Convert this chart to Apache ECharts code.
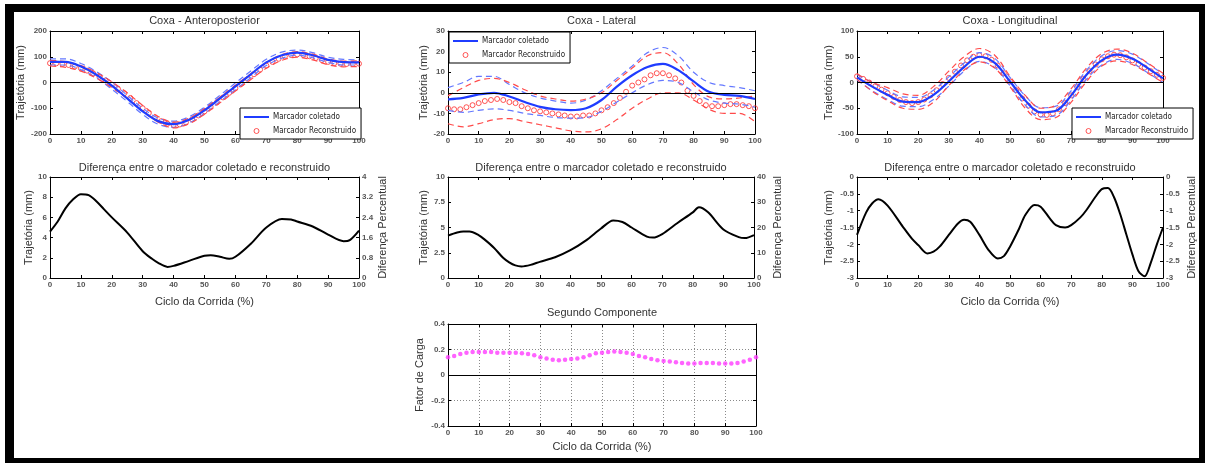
<!DOCTYPE html>
<html><head><meta charset="utf-8">
<script src="https://cdn.jsdelivr.net/npm/echarts@6/dist/echarts.min.js"></script>
<style>html,body{margin:0;padding:0;background:#fff}#c{width:1207px;height:464px}</style>
</head><body><div id="c"></div>
<script>
// ---------- data ----------
const X5 = [0,5,10,15,20,25,30,35,40,45,50,55,60,65,70,75,80,85,90,95,100];
const X2 = [0,2,4,6,8,10,12,14,16,18,20,22,24,26,28,30,32,34,36,38,40,42,44,46,48,50,52,54,56,58,60,62,64,66,68,70,72,74,76,78,80,82,84,86,88,90,92,94,96,98,100];
const X_TICKS = [0,10,20,30,40,50,60,70,80,90,100];

// Coxa - Anteroposterior
const AP_Y_TICKS = [-200,-100,0,100,200];
const AP_COL      = [80,80,62,30,-12,-62,-112,-150,-162,-145,-108,-62,-15,32,78,106,116,106,88,79,78];
const AP_COL_UP   = [92,92,74,42,2,-50,-100,-138,-150,-133,-96,-50,-2,45,90,118,126,116,98,90,88];
const AP_COL_LO   = [68,68,50,18,-26,-74,-124,-162,-174,-157,-120,-74,-28,19,66,94,106,96,78,68,68];
const AP_REC      = [75,74,72,68,62,55,46,35,22,8,-8,-25,-42,-60,-80,-100,-118,-135,-150,-160,-165,-163,-155,-143,-128,-112,-95,-77,-58,-40,-22,-4,14,32,50,66,80,92,101,107,109,107,102,95,87,80,75,73,72,72,73];
const AP_REC_UP   = [86,81,66,39,3,-40,-89,-132,-154,-138,-101,-57,-11,34,77,108,120,110,91,83,84];
const AP_REC_LO   = [64,59,44,17,-19,-62,-111,-154,-176,-160,-123,-79,-33,12,55,86,98,88,69,61,62];

// Coxa - Lateral
const LAT_Y_TICKS = [-20,-10,0,10,20,30];
const LAT_COL     = [-3.2,-2.5,-0.8,0,-1.8,-4.5,-6.8,-8,-8.4,-7.5,-3.5,3,8.5,12.5,14,11,5.5,0.5,-1,-1.5,-3];
const LAT_COL_UP  = [2.5,5,8,8,4,0,-2.5,-4,-5,-3.5,1,7,13,19.5,22,18,10,5,3.5,2.5,1];
const LAT_COL_LO  = [-8.5,-9.5,-8.5,-7.8,-8.5,-10,-11,-12,-12.3,-12,-9,-4.5,0,4,6,5,0.5,-3.5,-5,-5.5,-7];
const LAT_REC     = [-7.5,-8,-8,-7,-6,-5,-4,-3.5,-3,-3.5,-4.5,-5,-6.5,-7.5,-8.5,-9,-9.5,-10,-10.5,-11,-11.5,-11.5,-11,-11,-10,-8.5,-7,-5,-2.5,0.5,3.5,5,6.5,8.5,9.5,9.5,8.5,7,5,1,-1.5,-4,-6,-6.5,-6.5,-6,-5.5,-5.5,-6,-6.5,-7.5];
const LAT_REC_UP  = [-1.5,2.5,6,7,5,1.5,-1.5,-3,-4,-3,0,6,12,18,19.5,14,4,-2,-3,-2.5,-1.5];
const LAT_REC_LO  = [-15,-16.5,-15,-13,-12.5,-14,-15.5,-17,-18.5,-19,-17.5,-13,-7.5,-3,0,0,-3.5,-8,-10,-10,-14];

// Coxa - Longitudinal
const LON_Y_TICKS = [-100,-50,0,50,100];
const LON_COL     = [10,-8,-24,-37,-38,-24,2,30,50,38,2,-35,-58,-55,-25,15,43,54,46,28,8];
const LON_COL_UP  = [15,0,-15,-28,-29,-15,11,38,58,47,10,-26,-49,-46,-16,24,52,62,55,37,16];
const LON_COL_LO  = [5,-16,-33,-46,-47,-33,-7,22,41,29,-6,-44,-67,-64,-34,6,34,45,37,19,0];
const LON_REC     = [12,7,0,-7,-14,-21,-28,-34,-38,-40,-38,-33,-25,-15,-3,9,21,33,43,50,53,51,44,33,18,2,-15,-31,-45,-56,-62,-63,-60,-52,-40,-25,-9,7,22,35,45,51,54,53,49,43,36,29,22,15,9];
const LON_REC_UP  = [17,0,-10,-22,-25,-8,22,50,66,53,12,-25,-50,-44,-12,28,56,65,57,38,18];
const LON_REC_LO  = [6,-17,-35,-50,-52,-38,-6,24,40,28,-8,-50,-72,-68,-38,2,32,42,35,18,0];

// Diferença entre o marcador coletado e reconstruido  [ciclo %, mm]
const AP_DIFF  = [[0,4.6],[2.5,5.6],[5,6.9],[7.5,7.8],[10,8.3],[12.5,8.2],[15,7.6],[17.5,6.8],[20,6],[25,4.5],[30,2.65],[33,1.9],[35,1.5],[38,1.1],[40,1.2],[45,1.7],[50,2.2],[52,2.25],[55,2.1],[58,1.9],[60,2.1],[65,3.4],[70,5],[75,5.85],[78,5.8],[80,5.6],[85,5.1],[90,4.3],[95,3.65],[97,3.75],[100,4.7]];
const AP_DIFF_Y_TICKS = [0,2,4,6,8,10];
const AP_PCT_TICKS    = [0,0.8,1.6,2.4,3.2,4];
const LAT_DIFF = [[0,4.2],[3,4.5],[5,4.6],[7,4.6],[10,4.25],[12,3.8],[15,3],[18,2],[20,1.55],[22,1.25],[24,1.15],[27,1.3],[30,1.6],[35,2.05],[40,2.75],[45,3.7],[50,4.9],[54,5.7],[57,5.55],[60,5],[65,4.1],[67,4],[70,4.35],[75,5.45],[80,6.5],[82,7],[85,6.5],[90,4.8],[95,4.05],[97,3.95],[100,4.25]];
const LAT_DIFF_Y_TICKS = [0,2.5,5,7.5,10];
const LAT_PCT_TICKS    = [0,10,20,30,40];
const LON_DIFF = [[0,-1.72],[3,-1.05],[5,-0.78],[7,-0.66],[10,-0.85],[15,-1.48],[18,-1.84],[20,-2.02],[23,-2.27],[25,-2.22],[27,-2.07],[30,-1.72],[33,-1.38],[35,-1.27],[37,-1.33],[40,-1.72],[43,-2.17],[46,-2.42],[48,-2.35],[50,-2.07],[53,-1.53],[55,-1.13],[58,-0.83],[60,-0.88],[63,-1.23],[65,-1.43],[68,-1.5],[70,-1.43],[73,-1.2],[75,-0.98],[78,-0.58],[80,-0.36],[82,-0.33],[84,-0.6],[86,-1.1],[88,-1.7],[90,-2.3],[92,-2.8],[94,-2.95],[96,-2.55],[98,-2.0],[100,-1.5]];
const LON_DIFF_Y_TICKS = [-3,-2.5,-2,-1.5,-1,-0.5,0];
const LON_PCT_TICKS    = [-3,-2.5,-2,-1.5,-1,-0.5,0];

// Segundo Componente
const LOAD_FACTOR = [0.14,0.15,0.165,0.175,0.18,0.18,0.18,0.18,0.175,0.175,0.175,0.175,0.17,0.165,0.155,0.14,0.13,0.12,0.115,0.12,0.125,0.13,0.14,0.155,0.17,0.175,0.18,0.185,0.18,0.175,0.165,0.15,0.14,0.125,0.115,0.11,0.105,0.1,0.095,0.09,0.09,0.095,0.095,0.095,0.09,0.09,0.09,0.095,0.105,0.12,0.14];
const LOAD_Y_TICKS = [-0.4,-0.2,0,0.2,0.4];

// ---------- styling ----------
const FONT = "'Liberation Sans', Arial, sans-serif";
const NARROW = "'Liberation Sans Narrow', 'DejaVu Sans Condensed', 'Liberation Sans', sans-serif";
const BLUE = '#1f3cff', BLUE_D = '#6478ff', RED = '#ff2a2a', RED_D = '#ff4a4a', MAG = '#ff3cff';
const TXT = '#333';

const pair = (xs, ys) => xs.map((x, i) => [x, ys[i]]);
const rng = t => ({min: t[0], max: t[t.length - 1], interval: +(t[1] - t[0]).toFixed(6)});

const panels = [
  {g:{left:50,top:31,width:309,height:103},  title:'Coxa - Anteroposterior', ty:15, yt:AP_Y_TICKS, yName:'Trajetória (mm)', yGap:24, kind:'traj',
   d:{c:AP_COL,cu:AP_COL_UP,cl:AP_COL_LO,r:AP_REC,ru:AP_REC_UP,rl:AP_REC_LO}},
  {g:{left:448,top:31,width:307,height:103}, title:'Coxa - Lateral', ty:15, yt:LAT_Y_TICKS, yName:'Trajetória (mm)', yGap:19, kind:'traj',
   d:{c:LAT_COL,cu:LAT_COL_UP,cl:LAT_COL_LO,r:LAT_REC,ru:LAT_REC_UP,rl:LAT_REC_LO}},
  {g:{left:857,top:31,width:306,height:103}, title:'Coxa - Longitudinal', ty:15, yt:LON_Y_TICKS, yName:'Trajetória (mm)', yGap:23, kind:'traj',
   d:{c:LON_COL,cu:LON_COL_UP,cl:LON_COL_LO,r:LON_REC,ru:LON_REC_UP,rl:LON_REC_LO}},
  {g:{left:50,top:177,width:309,height:101}, title:'Diferença entre o marcador coletado e reconstruido', ty:162, yt:AP_DIFF_Y_TICKS, yName:'Trajetória (mm)', yGap:16,
   kind:'diff', diff:AP_DIFF, pt:AP_PCT_TICKS, pGap:18, xName:'Ciclo da Corrida (%)', xGap:18},
  {g:{left:448,top:177,width:306,height:101}, title:'Diferença entre o marcador coletado e reconstruido', ty:162, yt:LAT_DIFF_Y_TICKS, yName:'Trajetória (mm)', yGap:19,
   kind:'diff', diff:LAT_DIFF, pt:LAT_PCT_TICKS, pGap:18},
  {g:{left:857,top:177,width:306,height:101}, title:'Diferença entre o marcador coletado e reconstruido', ty:162, yt:LON_DIFF_Y_TICKS, yName:'Trajetória (mm)', yGap:23,
   kind:'diff', diff:LON_DIFF, pt:LON_PCT_TICKS, pGap:23, xName:'Ciclo da Corrida (%)', xGap:18},
  {g:{left:448,top:324,width:308,height:102}, title:'Segundo Componente', ty:307, yt:LOAD_Y_TICKS, yName:'Fator de Carga', yGap:23,
   kind:'load', xName:'Ciclo da Corrida (%)', xGap:15}
];

const axLine = {show:true, onZero:false, lineStyle:{color:'#000', width:1}};
const axTick = {show:true, inside:true, length:3, lineStyle:{color:'#000', width:1}};
const axLabel = {fontSize:8, fontWeight:'bold', color:'#555', margin:3, fontFamily:FONT};
const nameStyle = {fontSize:11, color:TXT, fontFamily:FONT};
const dotted = {show:true, lineStyle:{color:'#8a8a8a', type:[1,2], width:1}};

const grid = [], xAxis = [], yAxis = [], series = [], title = [];
const zeroLine = {silent:true, symbol:'none', label:{show:false}, lineStyle:{color:'#000', type:'solid', width:1}, data:[{yAxis:0}]};

panels.forEach((p, i) => {
  grid.push(p.g);
  const xr = rng(X_TICKS), yr = rng(p.yt);
  const isLoad = p.kind === 'load';
  xAxis.push({type:'value', gridIndex:i, position:'bottom', ...xr, axisLine:axLine, axisTick:axTick, axisLabel:axLabel,
    splitLine: isLoad ? dotted : {show:false},
    name:p.xName || '', nameLocation:'middle', nameGap:p.xGap || 18, nameTextStyle:nameStyle});
  xAxis.push({type:'value', gridIndex:i, position:'top', ...xr, axisLine:axLine, axisTick:axTick, axisLabel:{show:false}, splitLine:{show:false}});
  yAxis.push({type:'value', gridIndex:i, position:'left', ...yr, axisLine:axLine, axisTick:axTick, axisLabel:axLabel,
    splitLine: isLoad ? dotted : {show:false},
    name:p.yName, nameLocation:'middle', nameGap:p.yGap, nameTextStyle:nameStyle});
  if (p.kind === 'diff') {
    yAxis.push({type:'value', gridIndex:i, position:'right', ...rng(p.pt), axisLine:axLine, axisTick:axTick, axisLabel:axLabel, splitLine:{show:false},
      name:'Diferença Percentual', nameLocation:'middle', nameGap:p.pGap, nameTextStyle:nameStyle});
  } else {
    yAxis.push({type:'value', gridIndex:i, position:'right', ...yr, axisLine:axLine, axisTick:axTick, axisLabel:{show:false}, splitLine:{show:false}});
  }
  title.push({text:p.title, left:p.g.left + p.g.width/2 - 5, top:p.ty - 5, textAlign:'center',
    textStyle:{fontSize:11, fontWeight:'normal', color:TXT, fontFamily:FONT}});

  const ax = {xAxisIndex:2*i, yAxisIndex:2*i};
  if (p.kind === 'traj') {
    const ln = {type:'line', ...ax, symbol:'none', smooth:0.35, silent:true};
    const d = p.d;
    series.push({...ln, name:'sd-c-u', data:pair(X5,d.cu), lineStyle:{color:BLUE_D, width:1.2, type:[6,4]}, markLine:zeroLine});
    series.push({...ln, name:'sd-c-l', data:pair(X5,d.cl), lineStyle:{color:BLUE_D, width:1.2, type:[6,4]}});
    series.push({...ln, name:'sd-r-u', data:pair(X5,d.ru), lineStyle:{color:RED_D, width:1.2, type:[6,4]}});
    series.push({...ln, name:'sd-r-l', data:pair(X5,d.rl), lineStyle:{color:RED_D, width:1.2, type:[6,4]}});
    series.push({...ln, name:'Marcador coletado', data:pair(X5,d.c), lineStyle:{color:BLUE, width:2.2}, itemStyle:{color:BLUE}});
    series.push({type:'scatter', ...ax, name:'Marcador Reconstruido', data:pair(X2,d.r), symbol:'circle', symbolSize:5,
      itemStyle:{color:'rgba(255,255,255,0)', borderColor:RED, borderWidth:1}, silent:true});
  } else if (p.kind === 'diff') {
    series.push({type:'line', ...ax, name:'diff'+i, data:p.diff, symbol:'none', smooth:0.3, lineStyle:{color:'#000', width:2}, silent:true});
  } else {
    series.push({type:'scatter', ...ax, name:'Fator de Carga', data:pair(X2, LOAD_FACTOR), symbol:'circle', symbolSize:4.5,
      itemStyle:{color:MAG}, markLine:zeroLine, silent:true});
  }
});

const legendBase = {orient:'vertical', selectedMode:false, borderColor:'#000', borderWidth:1, borderRadius:0, backgroundColor:'#fff',
  padding:[5,5,4,4], itemGap:6, itemWidth:25, itemHeight:5, symbolKeepAspect:true,
  textStyle:{fontSize:8, color:'#222', fontFamily:NARROW, padding:[0,0,0,-1]},
  data:[
    {name:'Marcador coletado', icon:'path://M0,0H125V10H0Z', itemStyle:{color:BLUE, borderWidth:0}},
    {name:'Marcador Reconstruido', icon:'circle', itemStyle:{color:'rgba(255,255,255,0)', borderColor:RED, borderWidth:1}}
  ]};
const legend = [
  {...legendBase, left:240, top:108},
  {...legendBase, left:449, top:32},
  {...legendBase, left:1072, top:108}
];

const chart = echarts.init(document.getElementById('c'), null, {renderer:'canvas'});
chart.setOption({
  animation:false,
  backgroundColor:'#fff',
  graphic:[
    {type:'rect', silent:true, z:-100, shape:{x:5, y:4, width:1200, height:459}, style:{fill:'#000'}},
    {type:'rect', silent:true, z:-99, shape:{x:14, y:12, width:1185, height:446}, style:{fill:'#fff'}}
  ],
  title, grid, xAxis, yAxis, legend, series
});
</script></body></html>
